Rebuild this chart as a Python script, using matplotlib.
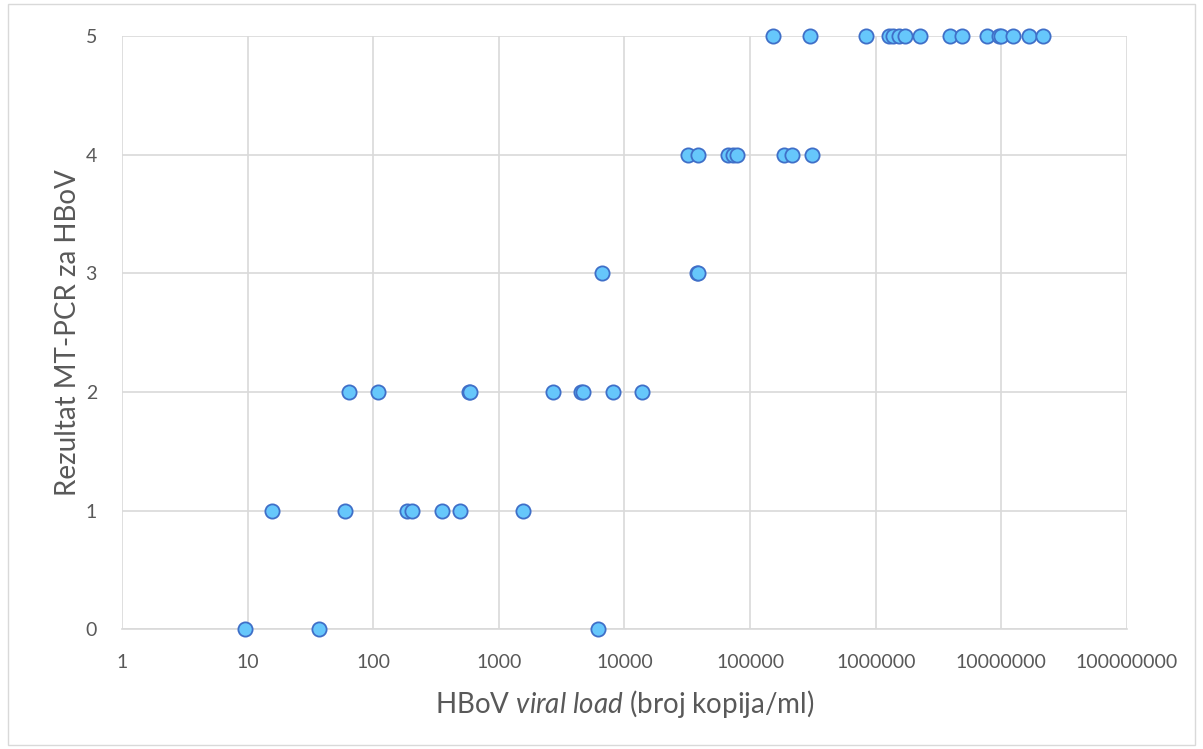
import matplotlib
matplotlib.use("Agg")
import matplotlib.pyplot as plt
from matplotlib.patches import Rectangle

# HBoV viral load (copies/ml) per MT-PCR result
load_0 = [9.5, 37, 6200]
load_1 = [15.6, 60, 186, 204, 353, 491, 1560]
load_2 = [64, 109, 575, 585, 2700, 4500, 4650, 8100, 13800]
load_3 = [6630, 37800, 38500]
load_4 = [32000, 38500, 66800, 73000, 78800, 186000, 216000, 312000]
load_5 = [152000, 300000, 840000, 1280000, 1380000, 1540000, 1710000, 2260000,
          3900000, 4870000, 7700000, 9600000, 10000000, 12400000, 16600000, 21500000]

results = [0, 1, 2, 3, 4, 5]
loads = [load_0, load_1, load_2, load_3, load_4, load_5]

xticks = [1, 10, 100, 1000, 10000, 100000, 1000000, 10000000, 100000000]

plt.rcParams['font.family'] = ['Lato', 'DejaVu Sans']
plt.rcParams['mathtext.fontset'] = 'custom'
plt.rcParams['mathtext.it'] = 'Lato:italic'
plt.rcParams['mathtext.rm'] = 'Lato'

fig = plt.figure(figsize=(12.03, 7.49), dpi=100)
ax = fig.add_axes([0.1014, 0.160, 0.8354, 0.792])

for r, vals in zip(results, loads):
    ax.scatter(vals, [r] * len(vals), s=105, color='#66c7fb', edgecolor='#3f6fc8',
               linewidth=1.3, zorder=3, clip_on=False)

ax.set_xscale('log')
ax.set_xlim(1, 1e8)
ax.set_ylim(0, 5)
ax.set_xticks(xticks)
ax.set_xticklabels([str(t) for t in xticks])
ax.minorticks_off()
ax.set_yticks(results)

ax.grid(True, color='#d9d9d9', linewidth=1.2)
ax.set_axisbelow(True)
for s in ['top', 'right', 'left']:
    ax.spines[s].set_visible(False)
ax.spines['bottom'].set_color('#d9d9d9')
ax.spines['bottom'].set_linewidth(1.2)
ax.tick_params(length=0, labelsize=14, colors='#595959')
ax.tick_params(axis='x', pad=18)
ax.tick_params(axis='y', pad=18)

ax.set_xlabel('HBoV $\\mathit{viral\\ load}$ (broj kopija/ml)', fontsize=20, color='#595959', labelpad=12)
ax.set_ylabel('Rezultat MT-PCR za HBoV', fontsize=20, color='#595959', labelpad=3)

fig.patches.append(Rectangle((0.007, 0.006), 0.986, 0.988, transform=fig.transFigure,
                             fill=False, edgecolor='#d9d9d9', linewidth=1))

fig.savefig('out.png', dpi=100)
